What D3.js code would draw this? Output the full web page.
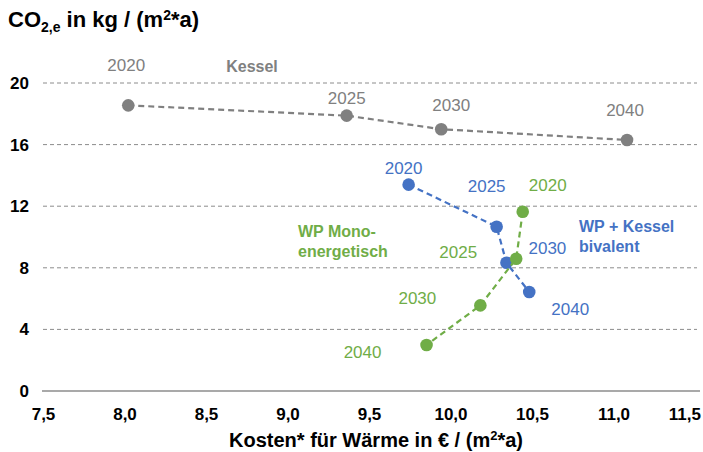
<!DOCTYPE html>
<html>
<head>
<meta charset="utf-8">
<script src="https://cdn.jsdelivr.net/npm/d3@7"></script>
<style>
  body { margin: 0; background: #fff; }
  text { font-family: "Liberation Sans", Arial, sans-serif; }
</style>
</head>
<body>
<div id="chart"></div>
<script>
// data
const years = ["2020", "2025", "2030", "2040"];
const kesselCost = [8.02, 9.36, 9.94, 11.08];
const kesselCO2 = [18.55, 17.88, 17.0, 16.3];
const bivalentCost = [9.74, 10.28, 10.34, 10.48];
const bivalentCO2 = [13.4, 10.67, 8.33, 6.43];
const monoCost = [10.44, 10.40, 10.18, 9.85];
const monoCO2 = [11.64, 8.59, 5.56, 2.99];
const xTicks = [7.5, 8.0, 8.5, 9.0, 9.5, 10.0, 10.5, 11.0, 11.5];
const yTicks = [0, 4, 8, 12, 16, 20];

// label offsets from each point (layout only)
const kesselLabelOff = [[-2, -40], [0, -18], [10, -24], [-2, -30]];
const bivalentLabelOff = [[-5, -17], [-10, -41], [41, -15], [41, 17]];
const monoLabelOff = [[25, -27], [-58, -7], [-63, -7], [-64, 7]];

const width = 703, height = 452;
const svg = d3.select("#chart").append("svg")
  .attr("width", width)
  .attr("height", height);

const x = d3.scaleLinear().domain([7.5, 11.5]).range([43.5, 695.5]);
const y = d3.scaleLinear().domain([0, 20]).range([391, 83]);

// gridlines
svg.append("g")
  .selectAll("line")
  .data(yTicks.filter(d => d > 0))
  .join("line")
    .attr("x1", 43).attr("x2", 697)
    .attr("y1", d => y(d)).attr("y2", d => y(d))
    .attr("stroke", "#8c8c8c")
    .attr("stroke-width", 1)
    .attr("stroke-dasharray", "4,3");

// baseline
svg.append("line")
  .attr("x1", 42).attr("x2", 700)
  .attr("y1", y(0)).attr("y2", y(0))
  .attr("stroke", "#8c8c8c")
  .attr("stroke-width", 1.3);

// y tick labels
svg.append("g")
  .selectAll("text")
  .data(yTicks)
  .join("text")
    .attr("x", 29)
    .attr("y", d => y(d) + 6)
    .attr("text-anchor", "end")
    .style("font-size", "17px")
    .style("font-weight", "bold")
    .text(d => d);

// x tick labels
const fmt = d => d3.format(".1f")(d).replace(".", ",");
svg.append("g")
  .selectAll("text")
  .data(xTicks)
  .join("text")
    .attr("x", d => x(d))
    .attr("y", 420)
    .attr("text-anchor", "middle")
    .style("font-size", "17px")
    .style("font-weight", "bold")
    .text(fmt)
    .each(function() {
      const w = this.getComputedTextLength();
      const cx = +d3.select(this).attr("x");
      if (cx + w / 2 > width - 2) d3.select(this).attr("x", width - 2 - w / 2);
    });

// axis titles
const yTitle = svg.append("text")
  .attr("x", 8).attr("y", 27)
  .style("font-size", "22px")
  .style("font-weight", "bold");
yTitle.append("tspan").text("CO");
yTitle.append("tspan").attr("dy", 5).style("font-size", "14px").text("2,e");
yTitle.append("tspan").attr("dy", -5).text(" in kg / (m");
yTitle.append("tspan").attr("dy", -7).style("font-size", "14px").text("2");
yTitle.append("tspan").attr("dy", 7).text("*a)");

const xTitle = svg.append("text")
  .attr("x", 376).attr("y", 447)
  .attr("text-anchor", "middle")
  .style("font-size", "20px")
  .style("font-weight", "bold");
xTitle.append("tspan").text("Kosten* für Wärme in € / (m");
xTitle.append("tspan").attr("dy", -7).style("font-size", "13px").text("2");
xTitle.append("tspan").attr("dy", 7).text("*a)");

const series = [
  {name: "Kessel", cost: kesselCost, co2: kesselCO2, off: kesselLabelOff, color: "#808080"},
  {name: "WP + Kessel bivalent", cost: bivalentCost, co2: bivalentCO2, off: bivalentLabelOff, color: "#4472C4"},
  {name: "WP Mono-energetisch", cost: monoCost, co2: monoCO2, off: monoLabelOff, color: "#70AD47"}
];

const line = d3.line().x(d => x(d.cost)).y(d => y(d.co2));

series.forEach(s => {
  const pts = years.map((yr, i) => ({year: yr, cost: s.cost[i], co2: s.co2[i], off: s.off[i]}));
  svg.append("path")
    .datum(pts)
    .attr("d", line)
    .attr("fill", "none")
    .attr("stroke", s.color)
    .attr("stroke-width", 2.2)
    .attr("stroke-dasharray", "6,4");
  svg.append("g")
    .selectAll("circle")
    .data(pts)
    .join("circle")
      .attr("cx", d => x(d.cost))
      .attr("cy", d => y(d.co2))
      .attr("r", 6.3)
      .attr("fill", s.color);
  svg.append("g")
    .selectAll("text")
    .data(pts)
    .join("text")
      .attr("x", d => x(d.cost) + d.off[0])
      .attr("y", d => y(d.co2) + d.off[1] + 6)
      .attr("text-anchor", "middle")
      .style("font-size", "17px")
      .style("fill", s.color)
      .text(d => d.year);
});

// series names
svg.append("text")
  .attr("x", 252).attr("y", 72)
  .attr("text-anchor", "middle")
  .style("font-size", "16px").style("font-weight", "bold")
  .style("fill", "#808080")
  .text("Kessel");

const mono = svg.append("text")
  .attr("x", 298).attr("y", 237)
  .style("font-size", "16px").style("font-weight", "bold")
  .style("fill", "#70AD47");
mono.append("tspan").attr("x", 298).text("WP Mono-");
mono.append("tspan").attr("x", 298).attr("dy", 20).text("energetisch");

const biv = svg.append("text")
  .attr("x", 579).attr("y", 232)
  .style("font-size", "16px").style("font-weight", "bold")
  .style("fill", "#4472C4");
biv.append("tspan").attr("x", 579).text("WP + Kessel");
biv.append("tspan").attr("x", 579).attr("dy", 20).text("bivalent");
</script>
</body>
</html>
